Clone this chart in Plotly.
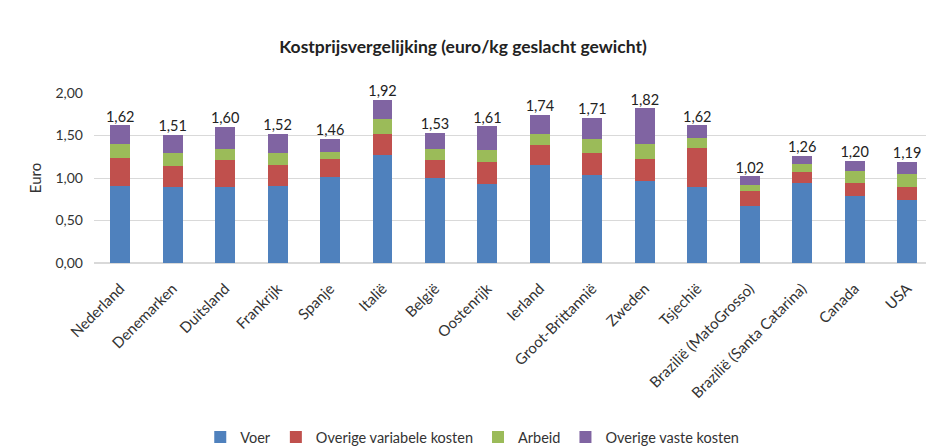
import plotly.graph_objects as go

landen = ["Nederland", "Denemarken", "Duitsland", "Frankrijk", "Spanje", "Italië", "België",
          "Oostenrijk", "Ierland", "Groot-Brittannië", "Zweden", "Tsjechië",
          "Brazilië (MatoGrosso)", "Brazilië (Santa Catarina)", "Canada", "USA"]
voer = [0.91, 0.89, 0.90, 0.91, 1.01, 1.27, 1.00, 0.93, 1.15, 1.03, 0.96, 0.90, 0.67, 0.94, 0.79, 0.74]
overige_variabel = [0.32, 0.25, 0.31, 0.24, 0.21, 0.25, 0.21, 0.26, 0.24, 0.26, 0.26, 0.45, 0.18, 0.13, 0.15, 0.16]
arbeid = [0.17, 0.15, 0.13, 0.14, 0.09, 0.17, 0.13, 0.14, 0.13, 0.17, 0.18, 0.12, 0.07, 0.10, 0.14, 0.15]
overige_vast = [0.22, 0.22, 0.26, 0.23, 0.15, 0.23, 0.19, 0.28, 0.22, 0.25, 0.42, 0.15, 0.10, 0.09, 0.12, 0.14]
totaal = [1.62, 1.51, 1.60, 1.52, 1.46, 1.92, 1.53, 1.61, 1.74, 1.71, 1.82, 1.62, 1.02, 1.26, 1.20, 1.19]

FONT = "Lato, Open Sans, sans-serif"
series = [
    ("Voer", voer, "#4F81BD"),
    ("Overige variabele kosten", overige_variabel, "#C0504D"),
    ("Arbeid", arbeid, "#9BBB59"),
    ("Overige vaste kosten", overige_vast, "#8064A2"),
]

fig = go.Figure()
for name, vals, col in series:
    fig.add_trace(go.Bar(x=landen, y=vals, name=name, marker=dict(color=col, line=dict(width=0)),
                         width=0.38))

fig.add_trace(go.Scatter(
    x=landen, y=totaal, mode="text",
    text=[f"{v:.2f}".replace(".", ",") for v in totaal],
    textposition="top center", textfont=dict(size=14.5, color="#222"),
    marker=dict(size=14),
    showlegend=False, cliponaxis=False, hoverinfo="skip"))

fig.update_layout(
    width=926, height=446,
    barmode="stack",
    paper_bgcolor="white", plot_bgcolor="white",
    font=dict(family=FONT, color="#333", size=13),
    separators=",.",
    margin=dict(l=94, r=0, t=93, b=183, autoexpand=False),
    title=dict(text="<b>Kostprijsvergelijking (euro/kg geslacht gewicht)</b>",
               x=0.5, xref="container", xanchor="center",
               y=1 - 47 / 446, yref="container", yanchor="middle",
               font=dict(size=17.5, color="#222", family=FONT)),
    legend=dict(orientation="h", xref="container", x=0.51, xanchor="center",
                yref="container", y=1 - 437 / 446, yanchor="middle",
                font=dict(size=14.5, color="#333"), traceorder="normal",
                itemwidth=30),
    xaxis=dict(range=[-0.5, 15.36], tickangle=-45, showgrid=False, automargin=False,
               showline=True, linecolor="#d9d9d9", ticks="", ticklabelstandoff=10,
               tickfont=dict(size=15, color="#333")),
    yaxis=dict(range=[0, 2.0], tickvals=[0, 0.5, 1.0, 1.5, 2.0], tickformat=".2f",
               automargin=False, ticklabelstandoff=10,
               showgrid=True, gridcolor="#d9d9d9", zeroline=True, zerolinecolor="#d9d9d9",
               tickfont=dict(size=14, color="#333"),
               title=dict(text="Euro", font=dict(size=15, color="#333"), standoff=10)),
)

fig.write_html("out.html", post_script="document.body.style.margin='0';",
               config={"displayModeBar": False})
